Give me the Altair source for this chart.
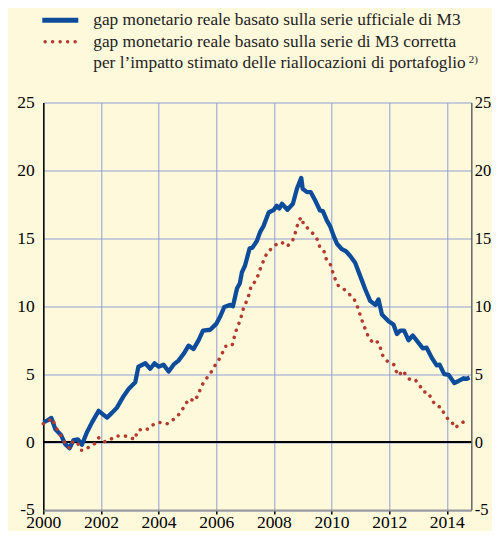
import altair as alt
import pandas as pd

# ---- data ----
blue_t = [2000.0, 2000.15, 2000.28, 2000.42, 2000.53, 2000.62, 2000.76, 2000.91, 2001.05, 2001.2,
          2001.34, 2001.51, 2001.69, 2001.92, 2002.21, 2002.38, 2002.56, 2002.79, 2002.96, 2003.19,
          2003.3, 2003.54, 2003.71, 2003.86, 2004.0, 2004.17, 2004.35, 2004.52, 2004.69, 2004.87,
          2005.04, 2005.21, 2005.39, 2005.54, 2005.79, 2006.0, 2006.15, 2006.28, 2006.49, 2006.58,
          2006.72, 2006.82, 2006.89, 2007.0, 2007.16, 2007.25, 2007.41, 2007.53, 2007.64, 2007.82,
          2008.0, 2008.1, 2008.19, 2008.28, 2008.47, 2008.66, 2008.8, 2008.95, 2009.0, 2009.15,
          2009.28, 2009.43, 2009.6, 2009.7, 2009.84, 2009.95, 2010.07, 2010.19, 2010.36, 2010.5,
          2010.65, 2010.82, 2011.0, 2011.17, 2011.34, 2011.52, 2011.63, 2011.75, 2011.98, 2012.15,
          2012.27, 2012.38, 2012.52, 2012.67, 2012.82, 2013.02, 2013.17, 2013.3, 2013.48, 2013.65,
          2013.75, 2013.91, 2014.06, 2014.26, 2014.41, 2014.59, 2014.68, 2014.79]
blue_v = [1.45, 1.6, 1.78, 0.95, 0.7, 0.5, -0.15, -0.45, 0.15, 0.2,
          -0.2, 0.7, 1.45, 2.3, 1.8, 2.15, 2.55, 3.4, 3.9, 4.4,
          5.55, 5.8, 5.4, 5.8, 5.55, 5.7, 5.2, 5.7, 6.0, 6.5,
          7.1, 6.85, 7.5, 8.2, 8.27, 8.7, 9.3, 9.95, 10.1, 10.0,
          11.3, 11.7, 12.5, 13.0, 14.27, 14.3, 14.8, 15.5, 15.9, 16.9,
          17.1, 17.4, 17.2, 17.55, 17.1, 17.55, 18.65, 19.45, 18.65, 18.4,
          18.4, 17.8, 17.05, 17.0, 16.3, 15.9, 15.2, 14.6, 14.2, 14.05,
          13.7, 13.2, 12.2, 11.25, 10.4, 10.1, 10.5, 9.4, 8.9, 8.65,
          7.95, 8.2, 8.2, 7.5, 7.85, 7.3, 6.9, 6.95, 6.2, 5.65,
          5.7, 5.0, 4.95, 4.35, 4.5, 4.7, 4.65, 4.75]

red_t = [2000.0, 2000.15, 2000.3, 2000.42, 2000.53, 2000.62, 2000.76, 2000.91, 2001.03, 2001.2,
         2001.3, 2001.42, 2001.63, 2001.78, 2001.92, 2002.12, 2002.3, 2002.5, 2002.67, 2002.84,
         2003.02, 2003.19, 2003.25, 2003.46, 2003.62, 2003.75, 2003.94, 2004.1, 2004.31, 2004.43,
         2004.61, 2004.79, 2004.93, 2005.08, 2005.24, 2005.39, 2005.47, 2005.62, 2005.79, 2005.93,
         2006.08, 2006.2, 2006.33, 2006.55, 2006.62, 2006.7, 2006.8, 2006.89, 2006.95, 2007.07,
         2007.16, 2007.21, 2007.35, 2007.47, 2007.55, 2007.66, 2007.77, 2007.96, 2008.13, 2008.28,
         2008.45, 2008.64, 2008.73, 2008.8, 2008.89, 2008.97, 2009.03, 2009.2, 2009.35, 2009.52,
         2009.6, 2009.75, 2009.82, 2009.95, 2010.03, 2010.13, 2010.24, 2010.44, 2010.61, 2010.79,
         2010.9, 2011.0, 2011.09, 2011.19, 2011.29, 2011.46, 2011.6, 2011.69, 2011.77, 2011.94,
         2012.16, 2012.25, 2012.32, 2012.49, 2012.61, 2012.73, 2012.9, 2013.05, 2013.19, 2013.37,
         2013.48, 2013.65, 2013.8, 2013.91, 2014.0, 2014.17, 2014.28, 2014.49, 2014.7]
red_v = [1.35, 1.5, 1.75, 1.2, 0.7, 0.45, -0.1, -0.45, 0.07, -0.1,
         -0.6, -0.6, -0.3, -0.12, 0.32, 0.02, 0.15, 0.44, 0.45, 0.45,
         0.32, 0.2, 0.8, 1.0, 0.95, 1.2, 1.43, 1.45, 1.35, 1.55,
         1.8, 2.25, 2.8, 3.2, 3.0, 3.53, 4.07, 4.57, 5.03, 5.55,
         6.02, 6.5, 7.06, 7.1, 7.68, 8.27, 8.8, 9.4, 9.9, 10.44,
         11.0, 11.5, 11.82, 12.36, 12.9, 13.43, 13.97, 14.32, 14.64, 14.7,
         14.4, 14.77, 15.3, 15.87, 16.4, 16.54, 16.0, 15.7, 15.36, 14.87,
         14.32, 14.0, 13.46, 13.13, 12.6, 12.0, 11.5, 11.24, 10.9, 10.5,
         9.95, 9.33, 8.75, 8.22, 7.7, 7.25, 7.38, 6.97, 6.4, 5.94,
         5.7, 5.2, 4.9, 5.27, 4.78, 4.6, 4.6, 4.2, 3.7, 3.63,
         3.07, 2.65, 2.57, 2.08, 1.79, 1.5, 1.05, 1.35, 1.67]

x_ticks = [2000, 2002, 2004, 2006, 2008, 2010, 2012, 2014]
y_ticks = [-5, 0, 5, 10, 15, 20, 25]
legend_labels = [
    "gap monetario reale basato sulla serie ufficiale di M3",
    "gap monetario reale basato sulla serie di M3 corretta",
    "per l\u2019impatto stimato delle riallocazioni di portafoglio",
]
note_label = "2)"

# ---- styling ----
FONT = "Liberation Serif"
BG = "#fff9dc"
BLUE = "#0d4c9b"
RED = "#b43a2f"
GRID = "#8f9fd4"
W, H = 428, 407.5

x_scale = alt.Scale(domain=[2000, 2014.85], nice=False, zero=False)
y_scale = alt.Scale(domain=[-5, 25], nice=False, zero=False)

blue_df = pd.DataFrame({"t": blue_t, "v": blue_v})
red_df = pd.DataFrame({"t": red_t, "v": red_v})
zero_df = pd.DataFrame({"v": [0]})

x_axis = alt.Axis(values=x_ticks, format="d", title=None, grid=True, gridColor=GRID,
                  gridWidth=1, domainColor="#9a9a9a", domainWidth=2, tickColor="black",
                  tickSize=4, tickWidth=1.5, labelFont=FONT, labelFontSize=17.5,
                  labelColor="black", labelPadding=0, labelFlush=False)
y_axis_left = alt.Axis(values=y_ticks, title=None, grid=True, gridColor=GRID, gridWidth=1,
                       domainColor="black", domainWidth=1.5, ticks=False, tickSize=0,
                       labelExpr="'' + datum.value",
                       labelFont=FONT, labelFontSize=17.5, labelColor="black", labelPadding=9)
y_axis_right = alt.Axis(values=y_ticks, title=None, grid=False, orient="right",
                        domainColor="#666666", domainWidth=1.5, ticks=False, tickSize=0,
                        labelExpr="'' + datum.value",
                        labelFont=FONT, labelFontSize=16.5, labelColor="black", labelPadding=3)

zero_rule = alt.Chart(zero_df).mark_rule(color="black", strokeWidth=2).encode(
    y=alt.Y("v:Q", scale=y_scale, axis=None))

blue_line = alt.Chart(blue_df).mark_line(color=BLUE, strokeWidth=4.3, strokeJoin="round").encode(
    x=alt.X("t:Q", scale=x_scale, axis=x_axis),
    y=alt.Y("v:Q", scale=y_scale, axis=y_axis_left))

red_line = alt.Chart(red_df).mark_line(color=RED, strokeWidth=3.5, strokeDash=[0.1, 7.3],
                                       strokeCap="round").encode(
    x=alt.X("t:Q", scale=x_scale),
    y=alt.Y("v:Q", scale=y_scale, axis=y_axis_right))

# ---- legend (drawn above the plot area) ----
legend_x_px = 50
legend_y_px = [-77.5, -56, -34.5]
sym_df = pd.DataFrame({"s": ["a"]})
blue_sym = alt.Chart(sym_df).mark_rule(color=BLUE, strokeWidth=5).encode(
    x=alt.value(-1), x2=alt.value(35), y=alt.value(-82.3))
red_sym = alt.Chart(sym_df).mark_rule(color=RED, strokeWidth=3.4, strokeDash=[0.1, 7.4],
                                      strokeCap="round").encode(
    x=alt.value(1.8), x2=alt.value(32), y=alt.value(-60.8))

texts = []
for lbl, ypx in zip(legend_labels, legend_y_px):
    texts.append(
        alt.Chart(pd.DataFrame({"label": [lbl]})).mark_text(
            align="left", baseline="alphabetic", font=FONT, fontSize=17.3, color="#1e1e1e"
        ).encode(x=alt.value(legend_x_px), y=alt.value(ypx), text="label:N")
    )
note_text = alt.Chart(pd.DataFrame({"label": [note_label]})).mark_text(
    align="left", baseline="alphabetic", font=FONT, fontSize=11, color="#1e1e1e"
).encode(x=alt.value(425.5), y=alt.value(-40), text="label:N")

chart = alt.layer(zero_rule, blue_line, red_line, blue_sym, red_sym, *texts, note_text).resolve_axis(
    y="independent"
).properties(
    width=W, height=H,
    autosize=alt.AutoSizeParams(type="none"),
    padding={"left": 35.3, "top": 94.5, "right": 20.5, "bottom": 21},
).configure(background=BG, font=FONT).configure_view(stroke=None)

chart.save("out.html", embed_options={"renderer": "svg", "actions": False})
